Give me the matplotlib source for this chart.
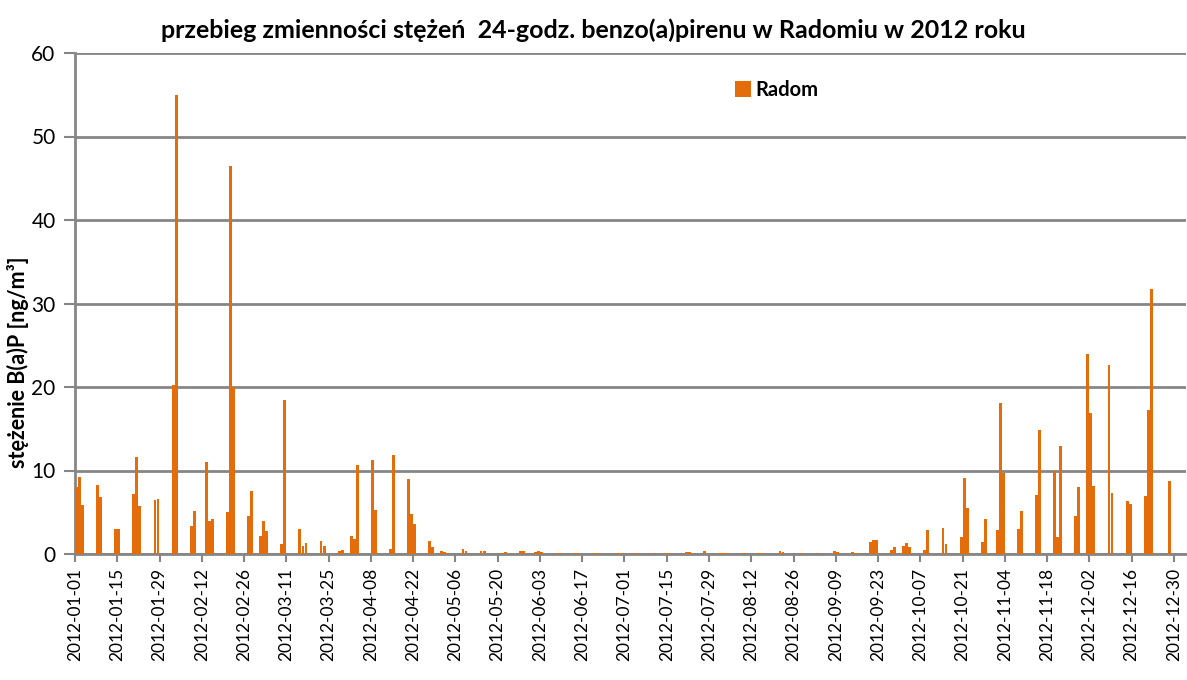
import matplotlib.pyplot as plt
import numpy as np
import pandas as pd

plt.rcParams['font.family'] = ['Lato', 'DejaVu Sans']

# day of year (0 = 2012-01-01) and 24h B(a)P concentration, ng/m3
days = [0, 1, 2, 7, 8, 13, 14, 19, 20, 21, 26, 27, 32, 33, 38, 39, 43, 44, 45,
        50, 51, 52, 57, 58, 61, 62, 63, 68, 69, 74, 75, 76, 81, 82, 87, 88,
        91, 92, 93, 98, 99, 104, 105, 110, 111, 112, 117, 118, 121, 122, 123,
        128, 129, 134, 135, 141, 142, 147, 148, 152, 153, 154, 159, 160, 165,
        166, 172, 173, 179, 180, 185, 186, 190, 195, 196, 202, 203, 208, 213,
        214, 215, 221, 226, 227, 233, 234, 240, 245, 251, 252, 257, 258, 263,
        264, 265, 270, 271, 274, 275, 276, 281, 282, 287, 288, 293, 294, 295,
        300, 301, 305, 306, 307, 312, 313, 318, 319, 324, 325, 326, 331, 332,
        335, 336, 337, 342, 343, 348, 349, 354, 355, 356, 362]
radom = [8.0, 9.2, 5.9, 8.3, 6.8, 3.0, 3.0, 7.2, 11.6, 5.8, 6.5, 6.6, 20.2, 55.0,
         3.4, 5.2, 11.0, 4.0, 4.2, 5.0, 46.5, 20.0, 4.6, 7.5, 2.1, 3.9, 2.8,
         1.2, 18.5, 3.0, 1.0, 1.3, 1.6, 1.0, 0.3, 0.5, 2.1, 1.8, 10.7, 11.2,
         5.3, 0.6, 11.9, 9.0, 4.8, 3.6, 1.6, 0.8, 0.3, 0.2, 0.1, 0.6, 0.4,
         0.4, 0.4, 0.1, 0.2, 0.3, 0.3, 0.2, 0.3, 0.2, 0.1, 0.1, 0.1, 0.1, 0.1,
         0.1, 0.15, 0.1, 0.1, 0.1, 0.1, 0.15, 0.15, 0.2, 0.2, 0.3, 0.1, 0.1,
         0.1, 0.15, 0.1, 0.1, 0.4, 0.2, 0.15, 0.15, 0.3, 0.2, 0.25, 0.1, 1.4,
         1.7, 1.7, 0.5, 0.8, 1.0, 1.3, 0.8, 0.5, 2.9, 3.1, 1.2, 2.0, 9.1, 5.5,
         1.4, 4.2, 2.9, 18.1, 9.7, 3.0, 5.1, 7.1, 14.9, 9.9, 2.0, 12.9, 4.5,
         8.0, 24.0, 16.9, 8.2, 22.6, 7.3, 6.3, 6.0, 7.0, 17.2, 31.7, 8.8]

tick_dates = pd.date_range('2012-01-01', '2012-12-30', freq='14D')
tick_labels = [d.strftime('%Y-%m-%d') for d in tick_dates]
tick_pos = [(d - tick_dates[0]).days for d in tick_dates]

fig = plt.figure(figsize=(11.87, 6.8), dpi=100)
ax = fig.add_axes([75 / 1187, 126 / 680, 1111 / 1187, 501 / 680])

ax.bar(np.array(days) + 0.5, radom, width=0.95, color='#E46C0A', label='Radom', zorder=3)

ax.set_xlim(0, 368)
ax.set_ylim(0, 60)
ax.set_yticks(range(0, 61, 10))
ax.tick_params(axis='y', labelsize=15, length=8, color='#868686', width=1.5, pad=6)
ax.set_xticks(tick_pos)
ax.set_xticklabels(tick_labels, rotation=90, fontsize=12.5)
ax.tick_params(axis='x', length=6, color='#868686', width=1.5, pad=4)

ax.grid(axis='y', color='#868686', linewidth=2, zorder=0)
for s in ['top', 'right']:
    ax.spines[s].set_visible(False)
for s in ['left', 'bottom']:
    ax.spines[s].set_color('#868686')
    ax.spines[s].set_linewidth(2)

# title is centred on the figure, not on the plot area
fig.text(593 / 1187, 1 - 30 / 680,
         'przebieg zmienności stężeń  24-godz. benzo(a)pirenu w Radomiu w 2012 roku',
         fontsize=18, fontweight='bold', ha='center', va='center')
fig.text(18 / 1187, 1 - 362 / 680, 'stężenie B(a)P [ng/m³]', rotation=90,
         fontsize=15.5, fontweight='bold', ha='center', va='center')

ax.legend(loc='center left', bbox_to_anchor=(0.585, 0.926), frameon=False,
          prop={'weight': 'bold', 'size': 14.5}, handlelength=0.8, handleheight=0.8,
          handletextpad=0.2, borderpad=0)

fig.savefig('out.png', dpi=100)
